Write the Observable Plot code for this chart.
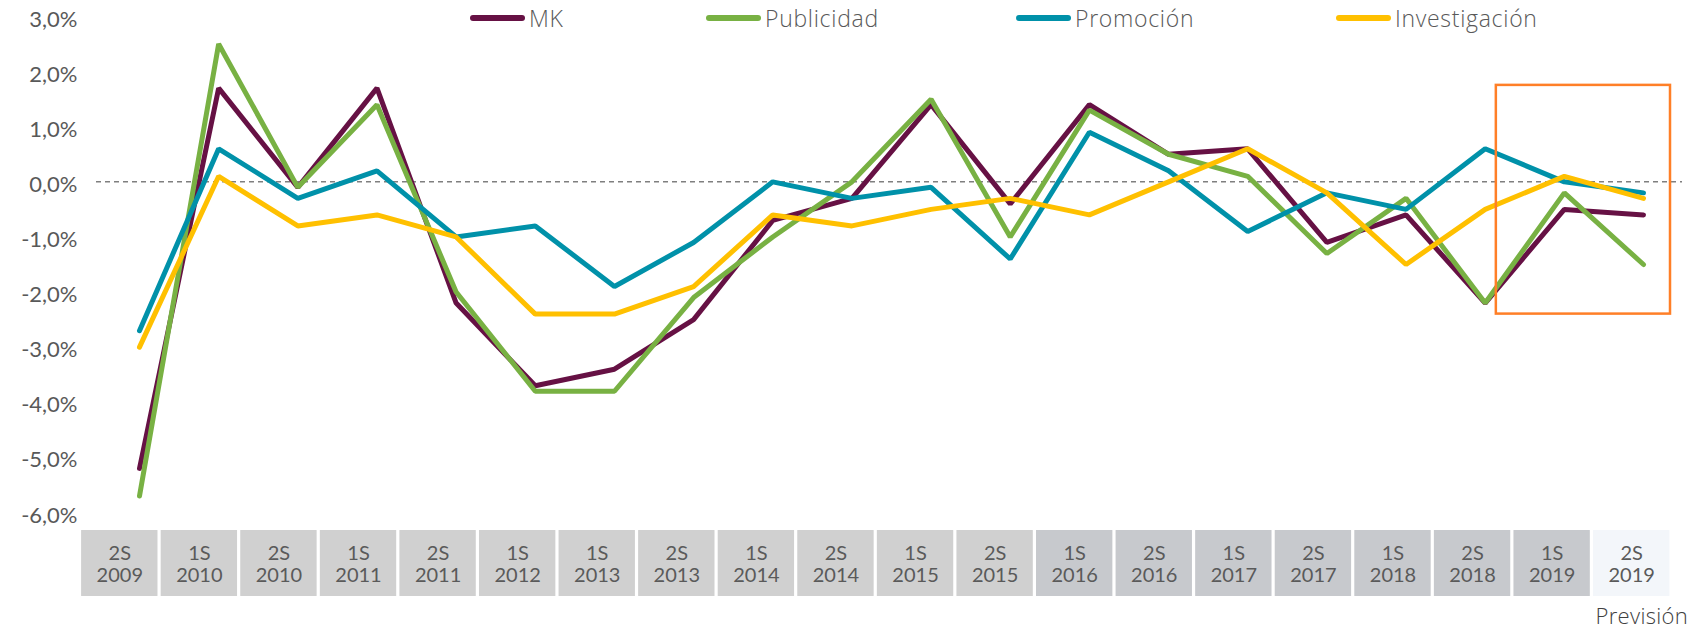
<!DOCTYPE html>
<html><head><meta charset="utf-8">
<script src="https://cdn.jsdelivr.net/npm/d3@7"></script>
<script src="https://cdn.jsdelivr.net/npm/@observablehq/plot@0.6"></script>
<style>
body{margin:0;background:#fff;font-family:Lato,"Open Sans",sans-serif;}
#wrap{position:relative;width:1690px;height:629px;overflow:hidden;}
#wrap svg{position:absolute;left:0;top:0;}
.item{position:absolute;top:4px;height:28px;display:flex;align-items:center;font-family:"Open Sans",Lato,sans-serif;font-weight:300;font-size:23px;letter-spacing:0.7px;color:#595959;white-space:nowrap;}
.sw{width:55px;height:6px;border-radius:3px;margin-right:4px;}
.prev{position:absolute;right:2px;top:603px;line-height:24px;font-family:"Open Sans",Lato,sans-serif;font-weight:300;font-size:22px;letter-spacing:0.3px;color:#404040;}
</style></head><body>
<div id="wrap"></div>
<script>
const periods = ["2S 2009","1S 2010","2S 2010","1S 2011","2S 2011","1S 2012","1S 2013","2S 2013","1S 2014","2S 2014",
                 "1S 2015","2S 2015","1S 2016","2S 2016","1S 2017","2S 2017","1S 2018","2S 2018","1S 2019","2S 2019"];
const seriesNames = ["MK","Publicidad","Promoción","Investigación"];
const seriesColors = ["#661144","#78b143","#0091a9","#ffc000"];
const mk            = [-5.2, 1.7,-0.1, 1.7,-2.2,-3.7,-3.4,-2.5,-0.7,-0.3, 1.4,-0.4, 1.4, 0.5, 0.6,-1.1,-0.6,-2.2,-0.5,-0.6];
const publicidad    = [-5.7, 2.5,-0.1, 1.4,-2.0,-3.8,-3.8,-2.1,-1.0, 0.0, 1.5,-1.0, 1.3, 0.5, 0.1,-1.3,-0.3,-2.2,-0.2,-1.5];
const promocion     = [-2.7, 0.6,-0.3, 0.2,-1.0,-0.8,-1.9,-1.1, 0.0,-0.3,-0.1,-1.4, 0.9, 0.2,-0.9,-0.2,-0.5, 0.6, 0.0,-0.2];
const investigacion = [-3.0, 0.1,-0.8,-0.6,-1.0,-2.4,-2.4,-1.9,-0.6,-0.8,-0.5,-0.3,-0.6, 0.0, 0.6,-0.2,-1.5,-0.5, 0.1,-0.3];
const yTicks = [-6,-5,-4,-3,-2,-1,0,1,2,3];
const forecastFrom = "1S 2019", forecastTo = "2S 2019";

const seriesValues = [mk, publicidad, promocion, investigacion];
const rows = [];
seriesNames.forEach((s, k) => periods.forEach((p, i) => rows.push({series: s, period: p, value: seriesValues[k][i]})));

const fmt = d => d.toFixed(1).replace(".", ",") + "%";
const boxColor = (d, i) => i < 12 ? "#d0d0d0" : (i < 19 ? "#c7c9cd" : "#f3f6fa");
const font = "Lato, 'Open Sans', sans-serif";

const plotA = Plot.plot({
  width: 1690, height: 629,
  marginLeft: 96, marginRight: 8, marginTop: 0, marginBottom: 0,
  style: {fontFamily: font, color: "#595959", background: "white"},
  x: {type: "band", domain: periods, range: [79.5, 1671], padding: 0, round: false, axis: null},
  y: {domain: [-6, 3], range: [512, 16], axis: null},
  color: {type: "identity"},
  marks: [
    Plot.barY(periods, {x: d => d, y1: -6.327, y2: -7.524, fill: boxColor, insetLeft: 1.6, insetRight: 1.6}),
    Plot.text(periods, {x: d => d, y: -6.935, text: d => d.replace(" ", "\n"), fontSize: 20, lineHeight: 1.1, fill: "#5a5a5a"}),
    Plot.axisY(yTicks, {tickSize: 0, tickPadding: 19, fontSize: 22, tickFormat: fmt, dy: 3, label: null})
  ]
});

const plotB = Plot.plot({
  width: 1690, height: 629,
  marginLeft: 96, marginRight: 8, marginTop: 0, marginBottom: 0,
  style: {fontFamily: font, background: "transparent"},
  x: {type: "point", domain: periods, range: [139, 1643], padding: 0, round: false, axis: null},
  y: {domain: [-6, 3], range: [512, 16], axis: null},
  color: {domain: seriesNames, range: seriesColors},
  marks: [
    Plot.ruleY([0], {stroke: "#7f7f7f", strokeDasharray: "5,4", strokeWidth: 1.5}),
    Plot.line(rows, {x: "period", y: "value", z: "series", stroke: "series", strokeWidth: 5, strokeLinecap: "round", strokeLinejoin: "miter"}),
    Plot.rect([0], {x1: () => forecastFrom, x2: () => forecastTo, y1: 1.75, y2: -2.4, stroke: "#ff7f27", strokeWidth: 2.5, fill: "none", insetLeft: -68, insetRight: -27})
  ]
});

const wrap = document.getElementById("wrap");
wrap.appendChild(plotA);
wrap.appendChild(plotB);

const legendLeft = [470, 706, 1016, 1336];
seriesNames.forEach((s, k) => {
  const it = document.createElement("div");
  it.className = "item";
  it.style.left = legendLeft[k] + "px";
  const sw = document.createElement("span");
  sw.className = "sw";
  sw.style.background = seriesColors[k];
  const tx = document.createElement("span");
  tx.textContent = s;
  it.appendChild(sw); it.appendChild(tx);
  wrap.appendChild(it);
});
const prev = document.createElement("div");
prev.className = "prev";
prev.textContent = "Previsión";
wrap.appendChild(prev);
</script>
</body></html>
